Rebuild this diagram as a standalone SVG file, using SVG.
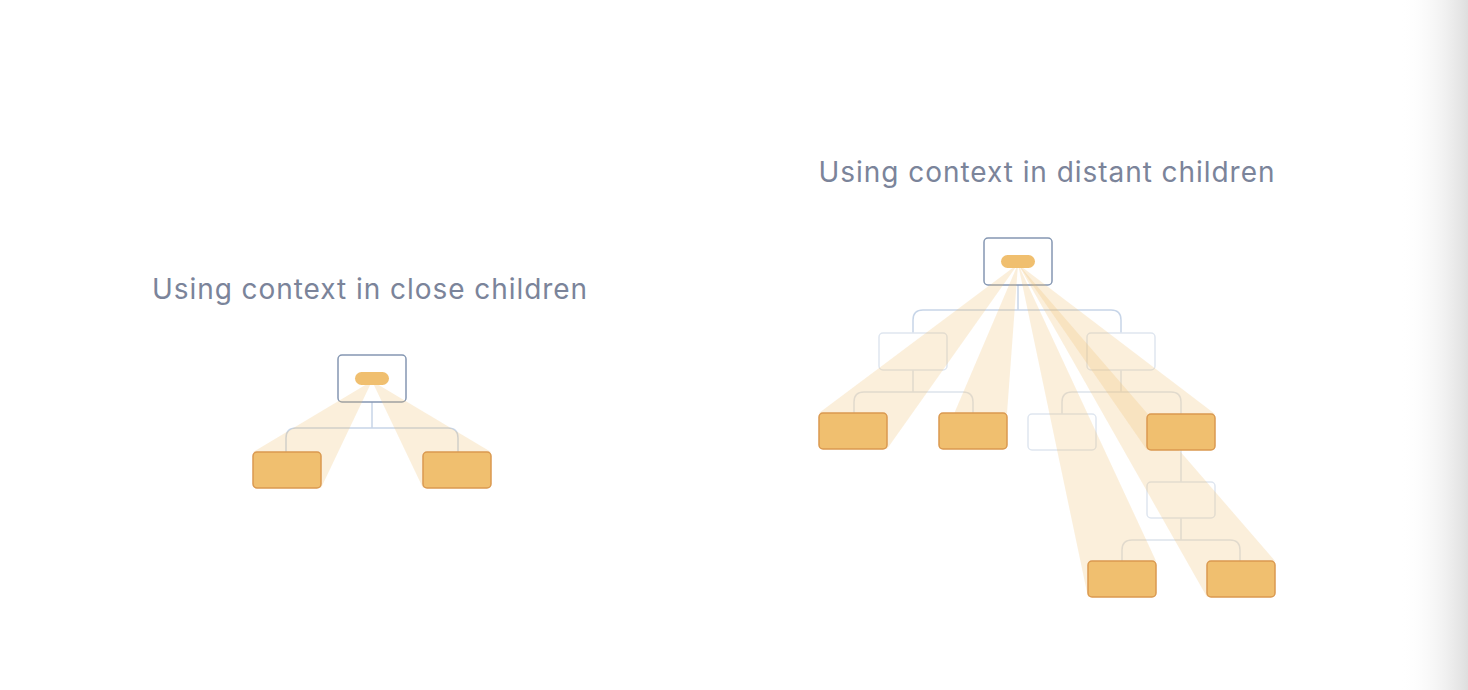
<svg xmlns="http://www.w3.org/2000/svg" width="1468" height="690" viewBox="0 0 1468 690">
<defs>
<linearGradient id="edge" x1="0" y1="0" x2="1" y2="0">
<stop offset="0" stop-color="#ffffff" stop-opacity="0"/>
<stop offset="1" stop-color="#dedede"/>
</linearGradient>
</defs>
<style>
.title{font-family:Inter,"Noto Sans",sans-serif;font-size:28px;letter-spacing:0.95px;fill:#7b849a;text-anchor:middle}
.root{fill:#ffffff;stroke:#8597b2;stroke-width:1.5}
.pill{fill:#f0bf6f}
.ghost{fill:none;stroke:#dfe6f0;stroke-width:1.5}
.leaf{fill:#f0bf6f;stroke:#da9950;stroke-width:1.5}
.c1{fill:none;stroke:#c7d5e8;stroke-width:1.5}
.c2{fill:none;stroke:#dde3ec;stroke-width:1.5}
.beam{fill:#f0bf6f;fill-opacity:0.25}
</style>
<rect x="0" y="0" width="1468" height="690" fill="#ffffff"/>
<rect x="1400" y="0" width="68" height="690" fill="url(#edge)"/>

<text class="title" x="370" y="299">Using context in close children</text>
<text class="title" x="1047" y="182">Using context in distant children</text>

<g id="connectors">
<path class="c1" d="M372 402V428M286 452V438Q286 428 296 428H448Q458 428 458 438V452"/>
<path class="c1" d="M1018 285V310M913 333V320Q913 310 923 310H1111Q1121 310 1121 320V333"/>
<path class="c2" d="M913 370V392M854 413V402Q854 392 864 392H963Q973 392 973 402V413"/>
<path class="c2" d="M1121 370V392M1062 414V402Q1062 392 1072 392H1171Q1181 392 1181 402V414"/>
<path class="c2" d="M1181 450V482"/>
<path class="c2" d="M1181 518V540M1122 561V550Q1122 540 1132 540H1230Q1240 540 1240 550V561"/>
</g>

<g id="left-root"><rect class="root" x="338" y="355" width="68" height="47" rx="4"/></g>
<g id="right-root"><rect class="root" x="984" y="238" width="68" height="47" rx="4"/></g>

<g id="ghost-l1-left"><rect class="ghost" x="879" y="333" width="68" height="37" rx="4"/></g>
<g id="ghost-l1-right"><rect class="ghost" x="1087" y="333" width="68" height="37" rx="4"/></g>
<g id="ghost-l2"><rect class="ghost" x="1028" y="414" width="68" height="36" rx="4"/></g>
<g id="ghost-l3"><rect class="ghost" x="1147" y="482" width="68" height="36" rx="4"/></g>

<g id="beams">
<polygon class="beam" points="372,381 253,452 321,488"/>
<polygon class="beam" points="372,381 423,488 491,452"/>
<polygon class="beam" points="1018,264 819,413 887,449"/>
<polygon class="beam" points="1018,264 939,449 1007,413"/>
<polygon class="beam" points="1018,264 1088,597 1156,561"/>
<polygon class="beam" points="1018,264 1207,597 1275,561"/>
<polygon class="beam" points="1018,264 1147,450 1215,414"/>
</g>

<g id="left-pill"><rect class="pill" x="355" y="372" width="34" height="13" rx="6.5"/></g>
<g id="right-pill"><rect class="pill" x="1001" y="255" width="34" height="13" rx="6.5"/></g>

<g id="left-child-a"><rect class="leaf" x="253" y="452" width="68" height="36" rx="4"/></g>
<g id="left-child-b"><rect class="leaf" x="423" y="452" width="68" height="36" rx="4"/></g>
<g id="leaf-1"><rect class="leaf" x="819" y="413" width="68" height="36" rx="4"/></g>
<g id="leaf-2"><rect class="leaf" x="939" y="413" width="68" height="36" rx="4"/></g>
<g id="leaf-3"><rect class="leaf" x="1147" y="414" width="68" height="36" rx="4"/></g>
<g id="leaf-4"><rect class="leaf" x="1088" y="561" width="68" height="36" rx="4"/></g>
<g id="leaf-5"><rect class="leaf" x="1207" y="561" width="68" height="36" rx="4"/></g>
</svg>
